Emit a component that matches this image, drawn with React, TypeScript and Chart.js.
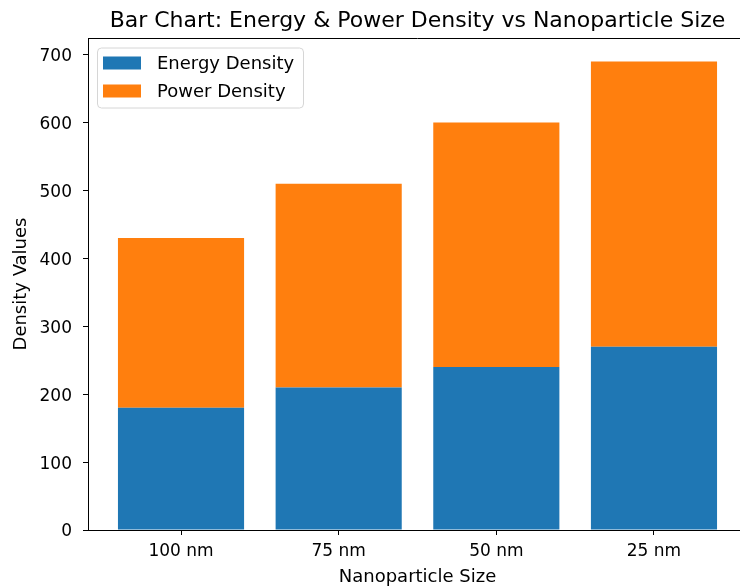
import React, { useEffect, useRef } from "react";
import { Chart, registerables } from "chart.js";

Chart.register(...registerables);

const categories = ["100 nm", "75 nm", "50 nm", "25 nm"];
const energyDensity = [180, 210, 240, 270];
const powerDensity = [250, 300, 360, 420];
const yTicks = [0, 100, 200, 300, 400, 500, 600, 700];
const chartTitle = "Bar Chart: Energy & Power Density vs Nanoparticle Size";
const xTitle = "Nanoparticle Size";
const yTitle = "Density Values";

const FONT = '"DejaVu Sans", sans-serif';

const framePlugin = {
  id: "frameAndExtras",
  afterDraw(chart: any) {
    const { ctx, chartArea } = chart;
    ctx.save();
    // top and right spines
    ctx.strokeStyle = "#000";
    ctx.lineWidth = 1;
    ctx.beginPath();
    ctx.moveTo(chartArea.left, Math.round(chartArea.top) + 0.5);
    ctx.lineTo(chartArea.right, Math.round(chartArea.top) + 0.5);
    ctx.lineTo(chartArea.right, chartArea.bottom);
    ctx.stroke();

    // title centred over the axes
    ctx.fillStyle = "#000";
    ctx.font = `22px ${FONT}`;
    ctx.textAlign = "center";
    ctx.textBaseline = "alphabetic";
    ctx.fillText(chartTitle, (chartArea.left + chartArea.right) / 2, 26.5);

    // legend
    const lx = chartArea.left + 9.5;
    const ly = chartArea.top + 10;
    const lw = 206;
    const lh = 60;
    ctx.beginPath();
    const r = 4;
    ctx.moveTo(lx + r, ly);
    ctx.lineTo(lx + lw - r, ly);
    ctx.arcTo(lx + lw, ly, lx + lw, ly + r, r);
    ctx.lineTo(lx + lw, ly + lh - r);
    ctx.arcTo(lx + lw, ly + lh, lx + lw - r, ly + lh, r);
    ctx.lineTo(lx + r, ly + lh);
    ctx.arcTo(lx, ly + lh, lx, ly + lh - r, r);
    ctx.lineTo(lx, ly + r);
    ctx.arcTo(lx, ly, lx + r, ly, r);
    ctx.closePath();
    ctx.fillStyle = "rgba(255,255,255,0.8)";
    ctx.fill();
    ctx.strokeStyle = "#d6d6d6";
    ctx.stroke();

    ctx.font = `18px ${FONT}`;
    ctx.textAlign = "left";
    ctx.textBaseline = "middle";
    chart.data.datasets.forEach((ds: any, i: number) => {
      const cy = ly + 15 + i * 28;
      ctx.fillStyle = ds.backgroundColor;
      ctx.fillRect(lx + 5.5, cy - 6.5, 38, 13);
      ctx.fillStyle = "#000";
      ctx.fillText(ds.label, lx + 59.5, cy + 1);
    });
    ctx.restore();
  },
};

export default function App() {
  const canvasRef = useRef<HTMLCanvasElement | null>(null);

  useEffect(() => {
    document.documentElement.style.overflow = "hidden";
    document.body.style.overflow = "hidden";
    const canvas = canvasRef.current;
    if (!canvas) return;
    const chart = new Chart(canvas, {
      type: "bar",
      data: {
        datasets: [
          {
            label: "Energy Density",
            data: energyDensity.map((v, i) => ({ x: i, y: v })),
            backgroundColor: "#1f77b4",
            borderWidth: 0,
            categoryPercentage: 1,
            barPercentage: 0.8,
          },
          {
            label: "Power Density",
            data: powerDensity.map((v, i) => ({ x: i, y: v })),
            backgroundColor: "#ff7f0e",
            borderWidth: 0,
            categoryPercentage: 1,
            barPercentage: 0.8,
          },
        ],
      },
      options: {
        animation: false,
        responsive: false,
        maintainAspectRatio: false,
        layout: { padding: { top: 38, right: 3, left: 0, bottom: 0 } },
        plugins: {
          legend: { display: false },
          title: { display: false },
          tooltip: { enabled: false },
        },
        scales: {
          x: {
            type: "linear",
            stacked: true,
            offset: false,
            min: -0.59,
            max: 3.59,
            afterBuildTicks: (scale: any) => {
              scale.ticks = categories.map((_, i) => ({ value: i }));
            },
            afterFit: (scale: any) => {
              scale.height = 58;
            },
            ticks: {
              callback: (v: any) => categories[Math.round(Number(v))] ?? "",
              font: { family: FONT, size: 17 },
              color: "#000",
              padding: 6,
              maxRotation: 0,
              autoSkip: false,
            },
            grid: {
              display: true,
              offset: false,
              drawOnChartArea: false,
              drawTicks: true,
              tickLength: 5,
              tickColor: "#000",
            },
            border: { display: true, color: "#000", width: 1 },
            title: {
              display: true,
              text: xTitle,
              font: { family: FONT, size: 18 },
              color: "#000",
              padding: { top: 0, bottom: 0 },
            },
          },
          y: {
            type: "linear",
            stacked: true,
            min: 0,
            max: 724.5,
            afterBuildTicks: (scale: any) => {
              scale.ticks = yTicks.map((v) => ({ value: v }));
            },
            afterFit: (scale: any) => {
              scale.width = 88;
            },
            ticks: {
              font: { family: FONT, size: 17 },
              color: "#000",
              padding: 11,
              labelOffset: 2,
            },
            grid: {
              display: true,
              drawOnChartArea: false,
              drawTicks: true,
              tickLength: 5,
              tickColor: "#000",
            },
            border: { display: true, color: "#000", width: 1 },
            title: {
              display: true,
              text: yTitle,
              font: { family: FONT, size: 18 },
              color: "#000",
              padding: { top: 11, bottom: 0 },
            },
          },
        },
      },
      plugins: [framePlugin],
    });
    return () => chart.destroy();
  }, []);

  return (
    <div style={{ position: "absolute", left: 0, top: 0, width: 750, height: 588, overflow: "hidden" }}>
      <canvas ref={canvasRef} width={750} height={588} style={{ display: "block" }} />
    </div>
  );
}
